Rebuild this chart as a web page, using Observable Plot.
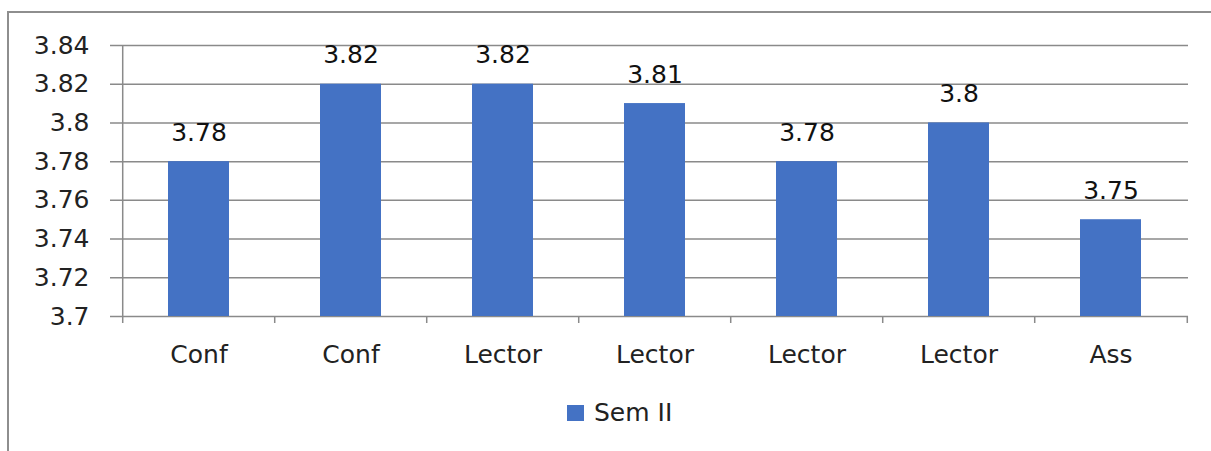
<!DOCTYPE html>
<html><head><meta charset="utf-8">
<script src="https://cdn.jsdelivr.net/npm/d3@7"></script>
<script src="https://cdn.jsdelivr.net/npm/@observablehq/plot@0.6"></script>
<style>
html,body{margin:0;padding:0;background:#fff;}
#wrap{position:relative;width:1211px;height:451px;overflow:hidden;font-family:"DejaVu Sans",sans-serif;}
#border{position:absolute;left:7px;top:11px;width:1300px;height:500px;border-left:2px solid #8e8e8e;border-top:2px solid #8e8e8e;}
#chart{position:absolute;left:0;top:0;}
#legend{position:absolute;left:567px;top:398px;font-size:25px;color:#222;display:flex;align-items:center;}
#legend span.sw{display:inline-block;width:17px;height:16px;background:#4472C4;margin-right:10px;}
</style></head>
<body><div id="wrap"><div id="border"></div><div id="chart"></div>
<div id="legend"><span class="sw"></span><span id="legtxt"></span></div></div>
<script>
const categories = ["Conf","Conf","Lector","Lector","Lector","Lector","Ass"];
const values = [3.78, 3.82, 3.82, 3.81, 3.78, 3.80, 3.75];
const yTicks = [3.7, 3.72, 3.74, 3.76, 3.78, 3.8, 3.82, 3.84];
const seriesName = "Sem II";

const data = categories.map((c, i) => ({id: i, cat: c, v: values[i]}));
const W = 1211, H = 381, mL = 120, mR = 23, mT = 45, mB = 65;
const step = (W - mL - mR) / categories.length;
const fmt = d => String(+d.toFixed(2));
const gridColor = "#8a8a8a";

const plot = Plot.plot({
  width: W, height: H,
  marginLeft: mL, marginRight: mR, marginTop: mT, marginBottom: mB,
  style: {fontFamily: "DejaVu Sans, sans-serif", fontSize: "25px", color: "#222", background: "transparent"},
  x: {domain: data.map(d => d.id), paddingInner: 0.6, paddingOuter: 0.3, label: null},
  y: {domain: [3.7, 3.84], label: null},
  marks: [
    Plot.ruleY(yTicks, {stroke: gridColor, strokeWidth: 1.5, insetLeft: -10}),
    Plot.ruleX([data[0]], {x: "id", y1: 3.7, y2: 3.84, dx: -step / 2, stroke: gridColor, strokeWidth: 1.5}),
    Plot.barY(data, {x: "id", y1: 3.7, y2: "v", fill: "#4472C4"}),
    Plot.ruleX(data, {x: "id", y1: 3.7, y2: 3.7, insetBottom: -7, dx: -step / 2, stroke: gridColor, strokeWidth: 1.5}),
    Plot.ruleX([data[data.length - 1]], {x: "id", y1: 3.7, y2: 3.7, insetBottom: -7, dx: step / 2, stroke: gridColor, strokeWidth: 1.5}),
    Plot.text(data, {x: "id", y: "v", text: d => fmt(d.v), dy: -29, fontSize: 25, fill: "#111"}),
    Plot.axisY(yTicks, {tickSize: 0, tickPadding: 31, tickFormat: fmt, fontSize: 25, fill: "#222"}),
    Plot.axisX({tickSize: 0, tickPadding: 29, tickFormat: i => categories[i], fontSize: 25, fill: "#222"})
  ]
});
document.getElementById("chart").appendChild(plot);
document.getElementById("legtxt").textContent = seriesName;
</script></body></html>
